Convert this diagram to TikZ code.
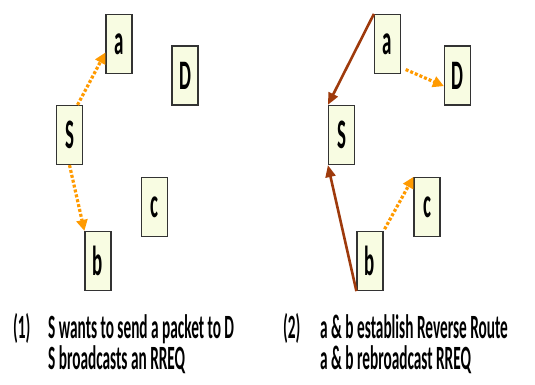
\documentclass[tikz,border=0pt]{standalone}
\usepackage{fontspec}
\usepackage{tikz}
\usetikzlibrary{arrows.meta}
\newfontfamily\diagfont[FakeStretch=0.45]{Carlito}
\definecolor{boxfill}{HTML}{F8FCE2}
\definecolor{bcastorange}{HTML}{FF9A00}
\definecolor{revbrown}{HTML}{9E3A0C}
\tikzset{
  host/.style={draw=black!80, line width=1.2pt, fill=boxfill, inner sep=0pt,
    minimum width=26pt, minimum height=59pt,
    font=\diagfont\bfseries\fontsize{42}{42}\selectfont},
  bcast/.style={bcastorange, line width=3.2pt, dash pattern=on 3pt off 2pt},
  revroute/.style={revbrown, line width=2.6pt},
  caption/.style={anchor=base west, inner sep=0pt, align=left,
    font=\diagfont\bfseries\fontsize{34}{31}\selectfont}
}

\begin{document}
\begin{tikzpicture}[x=1pt,y=-1pt]
  \useasboundingbox (0,0) rectangle (535,385);
  % (1) S broadcasts
  \node[host] (la) at (119,44) {a};
  \node[host] (lD) at (185,75.5) {D};
  \node[host] (lS) at (69.5,135) {S};
  \node[host] (lc) at (154.5,207) {c};
  \node[host] (lb) at (98,261) {b};

  \draw [-{Triangle[length=11pt,width=11pt]}][bcast] (lS.75) -- (la.212);
  \draw [-{Triangle[length=11pt,width=11pt]}][bcast] (lS.south) -- (lb.north west);

  % (2) reverse route + rebroadcast
  \node[host] (ra) at (387.5,44) {a};
  \node[host] (rD) at (457.5,75.5) {D};
  \node[host] (rS) at (341.5,135) {S};
  \node[host] (rc) at (427,207) {c};
  \node[host] (rb) at (370,261) {b};

  \draw [-{Triangle[length=12pt,width=10pt]}][revroute] (ra.north west) -- (rS.north west);
  \draw [-{Triangle[length=12pt,width=10pt]}][revroute] (rb.south west) -- (rS.south west);
  \draw [-{Triangle[length=11pt,width=11pt]}][bcast,shorten <=5pt] (ra.-60) -- (rD.218);
  \draw [-{Triangle[length=11pt,width=11pt]}][bcast,shorten <=2pt] (rb.north east) -- (rc.north west);

  % captions (base = last line)
  \node[caption] (lnum) at (13,338) {(1)};
  \node[caption] (ltext) at (48,369) {S wants to send a packet to D\\S broadcasts an RREQ};
  \node[caption] (rnum) at (283,338) {(2)};
  \node[caption] (rtext) at (320,369) {a \& b establish Reverse Route\\a \& b rebroadcast RREQ};
\end{tikzpicture}
\end{document}
